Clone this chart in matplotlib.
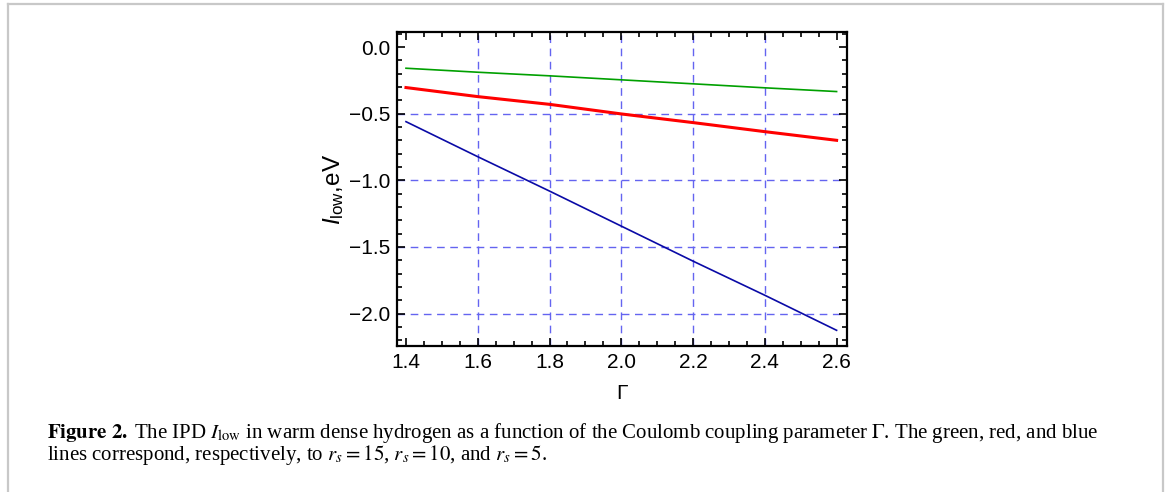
import matplotlib
matplotlib.use('Agg')
import matplotlib.pyplot as plt
from matplotlib.lines import Line2D
from matplotlib.ticker import MultipleLocator

plt.rcParams['font.family'] = 'Liberation Sans'
plt.rcParams['mathtext.fontset'] = 'custom'
plt.rcParams['mathtext.rm'] = 'Liberation Sans'
plt.rcParams['mathtext.it'] = 'Liberation Sans:italic'
plt.rcParams['axes.unicode_minus'] = True

#%% Data
gamma = [1.4, 1.6, 1.8, 2.0, 2.2, 2.4, 2.6]
ipd_rs15 = [-0.159, -0.189, -0.216, -0.246, -0.276, -0.306, -0.334]   # green
ipd_rs10 = [-0.304, -0.372, -0.430, -0.502, -0.567, -0.635, -0.700]   # red
ipd_rs5 = [-0.560, -0.823, -1.081, -1.344, -1.607, -1.863, -2.126]    # blue

xticks = [1.4, 1.6, 1.8, 2.0, 2.2, 2.4, 2.6]
yticks = [0.0, -0.5, -1.0, -1.5, -2.0]

#%% Figure
fig = plt.figure(figsize=(11.67, 4.92), dpi=100)
ax = fig.add_axes([0.3402, 0.2967, 0.3856, 0.638])

grid_col = '#6464f0'
for x in xticks[1:-1]:
    ax.axvline(x, color=grid_col, lw=1.0, ls=(0, (5.5, 4)), zorder=1)
for y in yticks[1:]:
    ax.axhline(y, color=grid_col, lw=1.0, ls=(0, (5.5, 4)), zorder=1)

ax.plot(gamma, ipd_rs15, color='#00a000', lw=1.2, zorder=3)
ax.plot(gamma, ipd_rs10, color='#ff0000', lw=2.2, zorder=3)
ax.plot(gamma, ipd_rs5, color='#0a0aa6', lw=1.2, zorder=3)

ax.set_xlim(1.375, 2.629)
ax.set_ylim(-2.244, 0.112)
ax.set_xticks(xticks)
ax.set_yticks(yticks)
ax.xaxis.set_minor_locator(MultipleLocator(0.05))
ax.yaxis.set_minor_locator(MultipleLocator(0.1))
ax.set_xticklabels([f'{v:.1f}' for v in xticks])
ax.set_yticklabels([f'{v:.1f}'.replace('-', '\u2212') for v in yticks])

ax.tick_params(which='both', direction='in', top=True, right=True,
               width=1.2, labelsize=15, color='black')
ax.tick_params(which='major', length=6, pad=5)
ax.tick_params(which='minor', length=3.5)
for s in ax.spines.values():
    s.set_linewidth(1.6)

ax.set_xlabel(r'$\Gamma$', fontsize=15, labelpad=9)
ax.set_ylabel(r'$I_{\rm low}$,eV', fontsize=17.5, labelpad=2)

# page border
fig.add_artist(Line2D([7.5/1167, 7.5/1167], [0, 1-4/492], transform=fig.transFigure,
                      color='#c8c8c8', lw=1.6))
fig.add_artist(Line2D([1163/1167, 1163/1167], [0, 1-4/492], transform=fig.transFigure,
                      color='#c8c8c8', lw=1.6))
fig.add_artist(Line2D([7.5/1167, 1163/1167], [1-4/492, 1-4/492], transform=fig.transFigure,
                      color='#c8c8c8', lw=1.6))

#%% Caption
cap1 = (r'$\mathbf{Figure\ 2.}\;$The IPD $I_{\rm low}$ in warm dense hydrogen as a function of '
        r'the Coulomb coupling parameter $\Gamma$. The green, red, and blue')
cap2 = r'lines correspond, respectively, to $r_s = 15$, $r_s = 10$, and $r_s = 5$.'
fig.text(47/1167, 1-433/492, cap1, fontsize=15, family='Liberation Serif',
         math_fontfamily='stix', va='center', ha='left')
fig.text(47/1167, 1-455/492, cap2, fontsize=15, family='Liberation Serif',
         math_fontfamily='stix', va='center', ha='left')

fig.savefig('out.png', dpi=100)
